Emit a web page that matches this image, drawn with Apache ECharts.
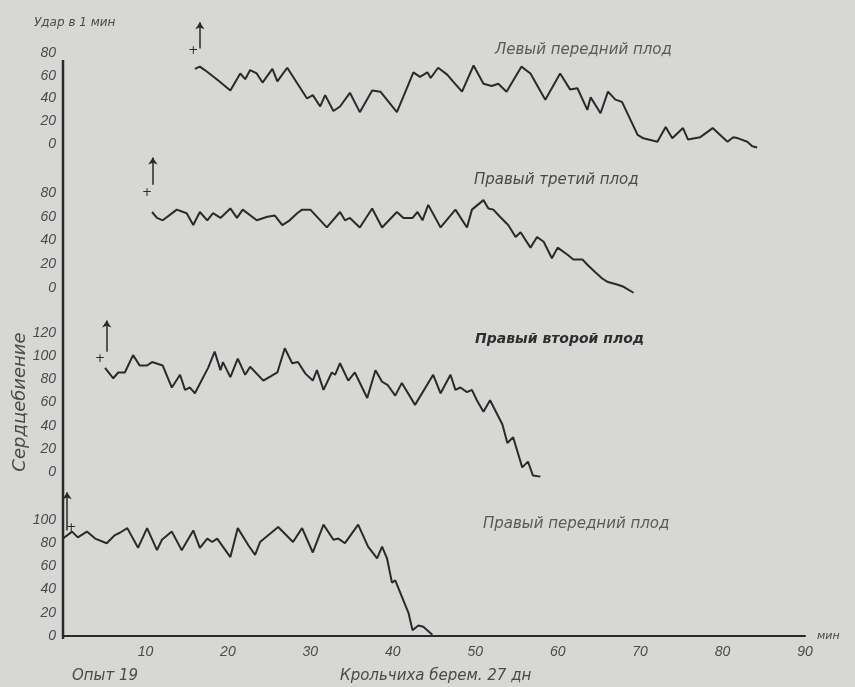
<!DOCTYPE html>
<html>
<head>
<meta charset="utf-8">
<script src="https://cdn.jsdelivr.net/npm/echarts@6/dist/echarts.min.js"></script>
<style>
  html, body { margin: 0; padding: 0; background: #d7d7d5; }
  #main { width: 855px; height: 687px; }
</style>
</head>
<body>
<div id="main"></div>
<script>
// время, мин
var xTicks = [0, 10, 20, 30, 40, 50, 60, 70, 80, 90];

// Левый передний плод
var leftFrontX = [16.0, 16.6, 17.2, 18.8, 20.3, 21.5, 22.1, 22.7, 23.5, 24.2, 25.4, 26.0, 27.2, 29.6, 30.3, 31.2, 31.8, 32.8, 33.6, 34.8, 36.0, 37.5, 38.5, 40.5, 41.7, 42.5, 43.3, 44.2, 44.6, 45.5, 46.6, 47.3, 48.4, 49.8, 51.0, 52.0, 52.8, 53.8, 55.6, 56.7, 58.5, 60.3, 61.5, 62.4, 63.6, 64.0, 65.2, 66.1, 67.0, 67.8, 69.7, 70.4, 72.1, 73.1, 73.9, 75.2, 75.8, 77.3, 78.8, 80.6, 81.3, 81.9, 83.0, 83.6, 84.2];
var leftFrontY = [66, 68, 65, 56, 47, 62, 57, 65, 62, 54, 66, 55, 67, 40, 43, 33, 43, 29, 33, 45, 28, 47, 46, 28, 49, 63, 59, 63, 58, 67, 61, 55, 46, 69, 53, 51, 53, 46, 68, 62, 39, 62, 48, 49, 30, 41, 27, 46, 39, 37, 8, 5, 2, 15, 5, 14, 4, 6, 14, 2, 6, 5, 2, -2, -3];

// Правый третий плод
var rightThirdX = [10.8, 11.4, 12.1, 13.8, 15.0, 15.8, 16.6, 17.5, 18.2, 19.1, 20.3, 21.1, 21.8, 23.5, 24.8, 25.7, 26.6, 27.5, 28.4, 29.0, 30.0, 32.0, 33.6, 34.2, 34.8, 36.0, 37.5, 38.7, 40.5, 41.3, 42.4, 43.0, 43.6, 44.3, 45.8, 47.6, 49.0, 49.6, 51.0, 51.6, 52.2, 53.0, 54.0, 54.9, 55.5, 56.7, 57.5, 58.3, 59.3, 60.0, 61.2, 61.9, 63.0, 63.7, 64.6, 65.4, 66.1, 67.2, 68.0, 69.2];
var rightThirdY = [64, 59, 57, 66, 63, 53, 64, 57, 63, 59, 67, 59, 66, 57, 60, 61, 53, 57, 63, 66, 66, 51, 64, 57, 59, 51, 67, 51, 64, 59, 59, 64, 57, 70, 51, 66, 51, 66, 74, 67, 66, 60, 53, 43, 47, 34, 43, 39, 25, 34, 28, 24, 24, 19, 13, 8, 5, 3, 1, -4];

// Правый второй плод
var rightSecondX = [5.1, 6.1, 6.7, 7.5, 8.5, 9.3, 10.2, 10.8, 12.1, 13.2, 14.2, 14.8, 15.4, 16.0, 17.6, 18.4, 19.1, 19.4, 20.3, 21.2, 22.1, 22.7, 24.3, 26.0, 26.9, 27.8, 28.5, 29.4, 30.3, 30.8, 31.6, 32.6, 33.0, 33.6, 34.6, 35.4, 36.9, 37.9, 38.7, 39.4, 40.3, 41.1, 42.7, 44.9, 45.8, 47.0, 47.6, 48.2, 49.0, 49.6, 50.2, 51.0, 51.8, 53.3, 53.9, 54.6, 55.7, 56.4, 57.0, 57.9];
var rightSecondY = [90, 81, 86, 86, 101, 92, 92, 95, 92, 73, 84, 71, 73, 68, 90, 104, 88, 95, 82, 98, 84, 91, 79, 86, 107, 94, 95, 85, 79, 88, 71, 86, 84, 94, 79, 86, 64, 88, 78, 75, 66, 77, 58, 84, 68, 84, 71, 73, 69, 71, 62, 52, 62, 41, 25, 30, 4, 9, -3, -4];

// Правый передний плод
var rightFrontX = [0.0, 1.1, 1.8, 2.9, 3.9, 5.3, 6.3, 6.9, 7.8, 9.1, 10.2, 11.4, 12.0, 13.2, 14.4, 15.8, 16.6, 17.5, 18.1, 18.7, 20.3, 21.2, 22.5, 23.3, 23.9, 26.1, 27.9, 29.0, 30.3, 31.6, 32.8, 33.4, 34.2, 35.8, 37.0, 38.1, 38.7, 39.3, 39.9, 40.3, 41.9, 42.4, 43.1, 43.7, 44.8];
var rightFrontY = [84, 90, 85, 90, 84, 80, 87, 89, 93, 76, 93, 74, 83, 90, 74, 91, 76, 84, 81, 84, 68, 93, 78, 70, 81, 94, 81, 93, 72, 96, 83, 84, 80, 96, 77, 67, 77, 67, 46, 48, 20, 5, 9, 8, 1];

// подписи кривых
var traceNames = ['Левый передний плод', 'Правый третий плод', 'Правый второй плод', 'Правый передний плод'];

// шкалы по вертикали (подписанные значения)
var yTicks1 = [0, 20, 40, 60, 80];
var yTicks2 = [0, 20, 40, 60, 80];
var yTicks3 = [0, 20, 40, 60, 80, 100, 120];
var yTicks4 = [0, 20, 40, 60, 80, 100];

// стрелки (момент начала записи) и крестики
var arrowX = [16.6, 10.9, 5.3, 0.5];
var arrowFrom = [84, 87, 104, 91];
var arrowTo = [107, 110, 131, 124];
var crossX = [15.8, 10.2, 4.5, 1.0];
var crossY = [82, 80, 98, 93];

function zip(xs, ys) {
    return xs.map(function (x, i) { return [x, ys[i]]; });
}

var font = 'Liberation Sans Narrow, Liberation Sans, sans-serif';
var wide = 'DejaVu Sans, sans-serif';
var ink = '#2a2a2a';
var textCol = '#4a4a4a';

var traces = [
    { x: leftFrontX, y: leftFrontY, ticks: yTicks1 },
    { x: rightThirdX, y: rightThirdY, ticks: yTicks2 },
    { x: rightSecondX, y: rightSecondY, ticks: yTicks3 },
    { x: rightFrontX, y: rightFrontY, ticks: yTicks4 }
];

// положение нулевой линии и масштаб каждой полосы (px)
var grids = [
    { top: 7.5, height: 136.5, max: 120 },
    { top: 145.5, height: 142.5, max: 120 },
    { top: 310, height: 162, max: 140 },
    { top: 473.6, height: 162.4, max: 140 }
];

var myChart = echarts.init(document.getElementById('main'));

var option = {
    backgroundColor: '#d7d7d5',
    animation: false,
    grid: grids.map(function (g) {
        return { left: 63, right: 50, top: g.top, height: g.height };
    }),
    xAxis: grids.map(function (g, i) {
        var last = i === grids.length - 1;
        return {
            type: 'value', gridIndex: i, min: xTicks[0], max: xTicks[xTicks.length - 1], interval: 10,
            splitLine: { show: false },
            axisTick: { show: false },
            axisLine: { show: last, onZero: false, lineStyle: { color: ink, width: 2 } },
            axisLabel: {
                show: last, margin: 9, color: textCol, fontSize: 14, fontStyle: 'italic', fontFamily: font,
                formatter: function (v) { return v === 0 ? '' : v; }
            },
            name: last ? 'мин' : '',
            nameLocation: 'end', nameGap: 12,
            nameTextStyle: { color: textCol, fontSize: 11, fontStyle: 'italic', fontFamily: wide, padding: [30, 0, 0, 0] }
        };
    }),
    yAxis: grids.map(function (g, i) {
        var top = traces[i].ticks[traces[i].ticks.length - 1];
        return {
            type: 'value', gridIndex: i, min: 0, max: g.max, interval: 20,
            splitLine: { show: false },
            axisLine: { show: false },
            axisTick: { show: false },
            axisLabel: {
                margin: 7, color: textCol, fontSize: 14, fontStyle: 'italic', fontFamily: font,
                formatter: function (v) { return v <= top ? v : ''; }
            }
        };
    }),
    series: traces.map(function (t, i) {
        return {
            name: traceNames[i],
            type: 'line', xAxisIndex: i, yAxisIndex: i,
            data: zip(t.x, t.y),
            showSymbol: false, clip: false, silent: true,
            lineStyle: { color: ink, width: 2 },
            markLine: {
                silent: true, symbol: ['none', 'arrow'], symbolSize: 7,
                label: { show: false },
                lineStyle: { color: ink, width: 1.5, type: 'solid' },
                data: [[{ coord: [arrowX[i], arrowFrom[i]] }, { coord: [arrowX[i], arrowTo[i]] }]]
            },
            markPoint: {
                silent: true, symbol: 'circle', symbolSize: 1,
                itemStyle: { color: 'rgba(0,0,0,0)' },
                label: { show: true, position: 'inside', formatter: '+', color: ink, fontSize: 12, fontFamily: 'DejaVu Sans' },
                data: [{ coord: [crossX[i], crossY[i]] }]
            }
        };
    }),
    graphic: [
        { type: 'line', shape: { x1: 63, y1: 60, x2: 63, y2: 639 }, style: { stroke: ink, lineWidth: 2.5 } },
        { type: 'text', left: 34, top: 17, style: { text: 'Удар в 1 мин', fill: textCol, font: 'italic 12px ' + wide } },
        { type: 'text', x: 20, y: 402, rotation: Math.PI / 2,
          style: { text: 'Сердцебиение', fill: textCol, font: 'italic 18px ' + wide, align: 'center', verticalAlign: 'middle' } },
        { type: 'text', left: 495, top: 43, style: { text: traceNames[0], fill: '#5a5a5a', font: 'italic 15px ' + wide } },
        { type: 'text', left: 474, top: 173, style: { text: traceNames[1], fill: '#4a4a4a', font: 'italic 15px ' + wide } },
        { type: 'text', left: 475, top: 332, style: { text: traceNames[2], fill: '#2e2e2e', font: 'italic bold 14px ' + wide } },
        { type: 'text', left: 483, top: 517, style: { text: traceNames[3], fill: '#5a5a5a', font: 'italic 15px ' + wide } },
        { type: 'text', left: 72, top: 669, style: { text: 'Опыт 19', fill: textCol, font: 'italic 15px ' + wide } },
        { type: 'text', left: 340, top: 669, style: { text: 'Крольчиха берем. 27 дн', fill: textCol, font: 'italic 15px ' + wide } }
    ]
};

myChart.setOption(option);
</script>
</body>
</html>
